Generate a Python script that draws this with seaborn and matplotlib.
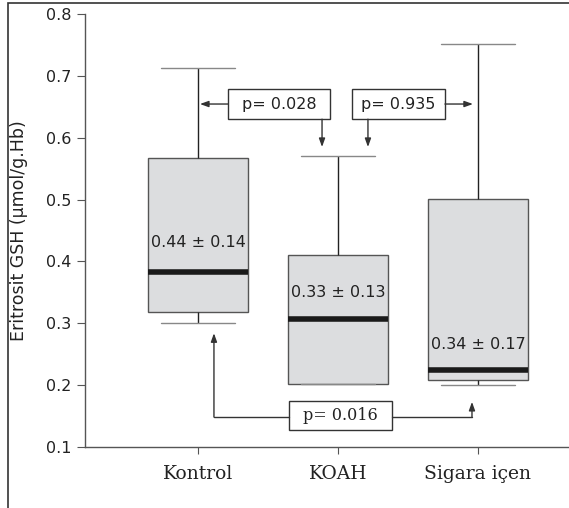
import numpy as np
import pandas as pd
import matplotlib
matplotlib.use("Agg")
import matplotlib.pyplot as plt
import seaborn as sns
from matplotlib.patches import Rectangle

# values (five-number summary per group)
groups = ["Kontrol", "KOAH", "Sigara içen"]
whisker_low = [0.300, 0.202, 0.200]
q1 = [0.318, 0.202, 0.208]
median = [0.383, 0.307, 0.224]
q3 = [0.567, 0.410, 0.501]
whisker_high = [0.712, 0.571, 0.751]
mean_sd = ["0.44 ± 0.14", "0.33 ± 0.13", "0.34 ± 0.17"]
p_values = ["p= 0.028", "p= 0.935", "p= 0.016"]

# with 5 points the default percentiles hit exactly these values
rows = []
for i, g in enumerate(groups):
    for v in (whisker_low[i], q1[i], median[i], q3[i], whisker_high[i]):
        rows.append({"group": g, "value": v})
df = pd.DataFrame(rows)

sns.set_style("ticks")
plt.rcParams["font.family"] = ["DejaVu Sans"]

fig = plt.figure(figsize=(5.69, 5.08), dpi=100)
ax = fig.add_axes([0.1494, 0.120, 0.8506, 0.8524])

sns.boxplot(data=df, x="group", y="value", order=groups, width=0.72,
            whis=(0, 100), color="#dcdddf", saturation=1,
            linecolor="#555555", linewidth=1.0, capwidths=0.53,
            medianprops=dict(color="#1a1a1a", linewidth=4),
            whiskerprops=dict(color="#222222"),
            capprops=dict(color="#888888"),
            ax=ax)

ax.set_xlim(-0.807, 2.65)
ax.set_ylim(0.1, 0.8)
ax.set_yticks(np.arange(0.1, 0.81, 0.1))
ax.set_yticklabels(["%.1f" % t for t in np.arange(0.1, 0.81, 0.1)], fontsize=11.5, color="#222222")
ax.set_xticks(range(len(groups)))
ax.set_xticklabels(groups, family="DejaVu Serif", fontsize=13.5, color="#222222")
ax.tick_params(axis="y", length=6, color="#555555", pad=4)
ax.tick_params(axis="x", length=5, color="#555555", pad=8)
for s in ["top", "right"]:
    ax.spines[s].set_visible(False)
for s in ["left", "bottom"]:
    ax.spines[s].set_color("#555555")
    ax.spines[s].set_linewidth(1.0)
ax.set_xlabel("")
ax.set_ylabel("Eritrosit GSH (μmol/g.Hb)", fontsize=12.5, color="#222222")
ax.yaxis.set_label_coords(-0.118, 0.5)

# mean ± sd labels inside boxes
label_y = [0.43, 0.35, 0.265]
for i, txt in enumerate(mean_sd):
    ax.text(i, label_y[i], txt, ha="center", va="center", fontsize=11.5, color="#222222")

# p value boxes
lc = "#333333"
boxes = [(0.214, 0.943, 0.630, 0.679), (1.10, 1.764, 0.630, 0.679), (0.65, 1.386, 0.1275, 0.174)]
for (x0, x1, y0, y1), p, fam in zip(boxes, p_values, ["DejaVu Sans", "DejaVu Sans", "DejaVu Serif"]):
    ax.add_patch(Rectangle((x0, y0), x1 - x0, y1 - y0, fill=False, ec=lc, lw=1.0, zorder=5))
    ax.text((x0 + x1) / 2, (y0 + y1) / 2, p, ha="center", va="center", fontsize=11.5,
            family=fam, color="#222222", zorder=6)

arrow = dict(arrowstyle="-|>,head_length=0.5,head_width=0.18", color=lc, lw=1.0,
             shrinkA=0, shrinkB=0, mutation_scale=10)
ymid = 0.6545
ax.annotate("", xy=(0.014, ymid), xytext=(0.214, ymid), arrowprops=arrow)
ax.annotate("", xy=(0.886, 0.585), xytext=(0.886, 0.630), arrowprops=arrow)
ax.annotate("", xy=(1.964, ymid), xytext=(1.764, ymid), arrowprops=arrow)
ax.annotate("", xy=(1.214, 0.585), xytext=(1.214, 0.630), arrowprops=arrow)

ybr = 0.1485
ax.plot([0.65, 0.114], [ybr, ybr], color=lc, lw=1.0)
ax.annotate("", xy=(0.114, 0.284), xytext=(0.114, ybr), arrowprops=arrow)
ax.plot([1.386, 1.957], [ybr, ybr], color=lc, lw=1.0)
ax.annotate("", xy=(1.957, 0.173), xytext=(1.957, ybr), arrowprops=arrow)

# outer frame of the figure (right and bottom edges cut off)
fig.patches.append(Rectangle((8 / 569, -0.05), 1.2, (508 - 3) / 508 + 0.05,
                             transform=fig.transFigure, fill=False, ec="#333333", lw=1.2))

fig.savefig("out.png", dpi=100)
